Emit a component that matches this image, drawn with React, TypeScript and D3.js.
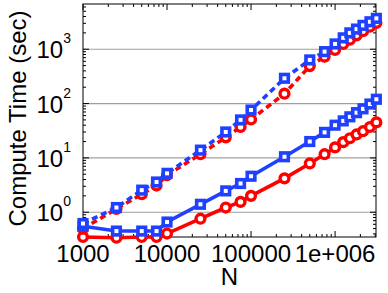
import * as d3 from "d3";

const nValues = [1000, 2500, 5000, 7500, 10000, 25000, 50000, 75000, 100000, 250000, 500000, 750000, 1000000, 1250000, 1500000, 1800000, 2150000, 2600000, 3100000];
const blueSolid = [0.55, 0.45, 0.45, 0.45, 0.66, 1.4, 2.47, 3.38, 4.6, 10.5, 20, 29.5, 40, 48, 57, 68, 80, 98, 120];
const redSolid = [0.35, 0.34, 0.35, 0.35, 0.405, 0.76, 1.22, 1.55, 2.0, 4.2, 7.9, 11.7, 15.6, 19.5, 23, 27, 31, 37, 45];
const blueDashed = [0.62, 1.22, 2.55, 3.6, 5.2, 13.9, 30, 50, 76, 292, 636, 903, 1250, 1620, 2000, 2350, 2750, 3200, 3700];
const redDashed = [0.5, 1.15, 2.15, 3.1, 4.8, 11.7, 23.9, 37, 51, 152, 490, 730, 970, 1250, 1500, 1800, 2150, 2600, 3050];

const xTickValues = [1000, 10000, 100000, 1000000];
const xTickLabels = ["1000", "10000", "100000", "1e+006"];
const yExponents = [0, 1, 2, 3];

const width = 388;
const height = 293;
const margin = { top: 4, right: 12, bottom: 56, left: 83 };
const font = "'Liberation Sans', Arial, Helvetica, sans-serif";
const BLUE = "#2040ff";
const RED = "#ff0000";

export default function App() {
	const x = d3.scaleLog([1000, 3.07e6], [margin.left, width - margin.right]);
	const y = d3.scaleLog([0.35, 6800], [height - margin.bottom, margin.top]);
	const [x0, x1] = x.range();
	const [y0, y1] = y.range();

	const minorX: number[] = [];
	for (let e = 3; e <= 6; e++) for (let k = 2; k <= 9; k++) {
		const v = k * 10 ** e;
		if (v < x.domain()[1]) minorX.push(v);
	}
	const minorY: number[] = [];
	for (let e = -1; e <= 3; e++) for (let k = 2; k <= 9; k++) {
		const v = k * 10 ** e;
		if (v > y.domain()[0] && v < y.domain()[1]) minorY.push(v);
	}

	const line = (vals: number[]) =>
		d3.line<number>().x((_, i) => x(nValues[i])).y((d) => y(d))(vals) || "";

	const series = [
		{ vals: redSolid, color: RED, dash: undefined, mark: "circle" },
		{ vals: redDashed, color: RED, dash: "6,4", mark: "circle" },
		{ vals: blueSolid, color: BLUE, dash: undefined, mark: "square" },
		{ vals: blueDashed, color: BLUE, dash: "6,4", mark: "square" },
	];

	return (
		<svg width={width} height={height} style={{ position: "absolute", left: 0, top: 0, background: "white" }} fontFamily={font}>
			{/* grid */}
			{yExponents.map((e) => (
				<line key={e} x1={x0} x2={x1} y1={y(10 ** e)} y2={y(10 ** e)} stroke="#a0a0a0" strokeWidth={1.2} />
			))}
			{/* ticks, mirrored, inward */}
			<g stroke="black" strokeWidth={1}>
				{xTickValues.map((v) => (
					<g key={v}>
						<line x1={x(v)} x2={x(v)} y1={y0} y2={y0 - 6} />
						<line x1={x(v)} x2={x(v)} y1={y1} y2={y1 + 6} />
					</g>
				))}
				{minorX.map((v) => (
					<g key={v}>
						<line x1={x(v)} x2={x(v)} y1={y0} y2={y0 - 3} />
						<line x1={x(v)} x2={x(v)} y1={y1} y2={y1 + 3} />
					</g>
				))}
				{yExponents.map((e) => (
					<g key={e}>
						<line x1={x0} x2={x0 + 6} y1={y(10 ** e)} y2={y(10 ** e)} />
						<line x1={x1} x2={x1 - 6} y1={y(10 ** e)} y2={y(10 ** e)} />
					</g>
				))}
				{minorY.map((v) => (
					<g key={v}>
						<line x1={x0} x2={x0 + 3} y1={y(v)} y2={y(v)} />
						<line x1={x1} x2={x1 - 3} y1={y(v)} y2={y(v)} />
					</g>
				))}
			</g>
			<rect x={x0} y={y1} width={x1 - x0} height={y0 - y1} fill="none" stroke="black" strokeWidth={1} />

			{/* series */}
			{series.map((s, si) => (
				<g key={si}>
					<path d={line(s.vals)} fill="none" stroke={s.color} strokeWidth={3.6} strokeDasharray={s.dash} />
					{s.vals.map((v, i) =>
						s.mark === "circle" ? (
							<circle key={i} cx={x(nValues[i])} cy={y(v)} r={4.4} fill="white" stroke={s.color} strokeWidth={3.4} />
						) : (
							<rect key={i} x={x(nValues[i]) - 3.8} y={y(v) - 3.8} width={7.6} height={7.6} fill="white" stroke={s.color} strokeWidth={3.6} />
						)
					)}
				</g>
			))}

			{/* x tick labels */}
			{xTickValues.map((v, i) => (
				<text key={v} x={x(v)} y={262} textAnchor="middle" fontSize={24} fill="black">{xTickLabels[i]}</text>
			))}
			<text x={(x0 + x1) / 2} y={285} textAnchor="middle" fontSize={24} fill="black">N</text>

			{/* y tick labels */}
			{yExponents.map((e) => (
				<text key={e} x={71} y={y(10 ** e) + 9} textAnchor="end" fontSize={24} fill="black">
					<tspan>10</tspan>
					<tspan dy={-15} fontSize={14}>{e}</tspan>
				</text>
			))}
			<text transform={`translate(26,${(y0 + y1) / 2 - 2}) rotate(-90)`} textAnchor="middle" fontSize={24} fill="black">Compute Time (sec)</text>
		</svg>
	);
}
